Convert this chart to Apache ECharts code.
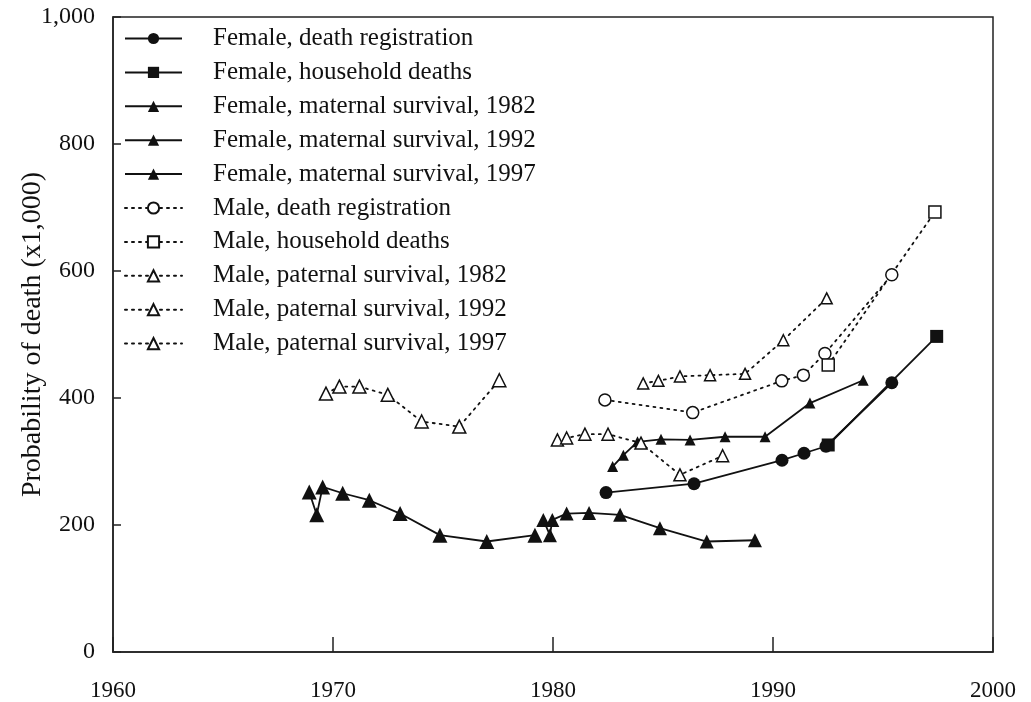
<!DOCTYPE html>
<html>
<head>
<meta charset="utf-8">
<script src="https://cdn.jsdelivr.net/npm/echarts@6/dist/echarts.min.js"></script>
<style>
html,body{margin:0;padding:0;background:#fff;}
#c{width:1031px;height:702px;}
</style>
</head>
<body>
<div id="c"></div>
<script>
// ---- Data (year, probability of death x1,000) ----
const femaleDeathReg = [[1982.41,251],[1986.41,265],[1990.41,302],[1991.41,313],[1992.41,324],[1995.4,424]];
const femaleHousehold = [[1992.51,326],[1997.44,497]];
const femaleMaternal1982 = [[1968.92,252],[1969.26,216],[1969.53,260],[1970.44,250],[1971.65,239],[1973.05,218],[1974.86,184],[1976.99,174],[1979.18,184]];
const femaleMaternal1992 = [[1979.56,208],[1979.86,184],[1979.97,208],[1980.62,218],[1981.64,219],[1983.05,216],[1984.86,195],[1986.99,174],[1989.18,176]];
const femaleMaternal1997 = [[1982.71,292],[1983.2,310],[1983.84,331],[1984.91,335],[1986.23,334],[1987.82,339],[1989.64,339],[1991.68,392],[1994.1,428]];
const maleDeathReg = [[1982.36,397],[1986.35,377],[1990.4,427],[1991.38,436],[1992.36,470],[1995.4,594]];
const maleHousehold = [[1992.51,452],[1997.36,693]];
const malePaternal1982 = [[1969.68,407],[1970.29,418],[1971.2,418],[1972.49,405],[1974.03,363],[1975.74,355],[1977.56,428]];
const malePaternal1992 = [[1980.2,334],[1980.62,337],[1981.45,343],[1982.5,343],[1984.0,329],[1985.77,279],[1987.71,309]];
const malePaternal1997 = [[1984.1,423],[1984.79,427],[1985.77,434],[1987.14,436],[1988.73,438],[1990.47,491],[1992.44,557]];

const seriesNames = [
  'Female, death registration',
  'Female, household deaths',
  'Female, maternal survival, 1982',
  'Female, maternal survival, 1992',
  'Female, maternal survival, 1997',
  'Male, death registration',
  'Male, household deaths',
  'Male, paternal survival, 1982',
  'Male, paternal survival, 1992',
  'Male, paternal survival, 1997'
];
const xTicks = [1960, 1970, 1980, 1990, 2000];
const yTicks = [0, 200, 400, 600, 800, 1000];

const FONT = '"Liberation Serif", "DejaVu Serif", serif';
const INK = '#111';

function female(name, data, symbol, size, z) {
  return {
    name, type: 'line', data, symbol, symbolSize: size, z: z || 2,
    lineStyle: { color: INK, width: 1.8, type: 'solid' },
    itemStyle: { color: INK, borderColor: INK, borderWidth: 0 },
    emphasis: { disabled: true }, animation: false
  };
}
function male(name, data, symbol, size) {
  return {
    name, type: 'line', data, symbol, symbolSize: size, z: 3,
    lineStyle: { color: INK, width: 1.8, type: [2, 5], cap: 'round' },
    itemStyle: { color: '#fff', borderColor: INK, borderWidth: 1.5 },
    emphasis: { disabled: true }, animation: false
  };
}

const chart = echarts.init(document.getElementById('c'), null, { renderer: 'canvas' });
chart.setOption({
  backgroundColor: '#fff',
  animation: false,
  grid: { left: 113, right: 38, top: 17, bottom: 50, outerBoundsMode: 'none', containLabel: false,
    show: true, borderColor: '#222', borderWidth: 1.5, backgroundColor: 'transparent' },
  legend: {
    orient: 'vertical', left: 119, top: 21,
    itemWidth: 57, itemHeight: 14, itemGap: 8.9,
    textStyle: { fontFamily: FONT, fontSize: 25, color: '#111', lineHeight: 25, padding: [0, 0, 0, 26] },
    data: seriesNames, selectedMode: false
  },
  xAxis: {
    type: 'value', min: 1960, max: 2000, interval: 10,
    axisLine: { show: true, onZero: false, lineStyle: { color: '#222', width: 1.5 } },
    axisTick: { show: true, inside: true, length: 15, lineStyle: { color: '#222', width: 1.5 }, customValues: xTicks },
    axisLabel: { fontFamily: FONT, fontSize: 23, color: '#111', margin: 27, customValues: xTicks,
      formatter: v => String(v) },
    splitLine: { show: false }
  },
  yAxis: {
    type: 'value', min: 0, max: 1000, interval: 200,
    name: 'Probability of death (x1,000)', nameLocation: 'middle', nameGap: 66, nameRotate: 90,
    nameMoveOverlap: false,
    nameTextStyle: { fontFamily: FONT, fontSize: 28, color: '#111' },
    axisLine: { show: true, lineStyle: { color: '#222', width: 1.5 } },
    axisTick: { show: true, inside: true, length: 8, lineStyle: { color: '#222', width: 1.5 }, customValues: yTicks },
    axisLabel: { fontFamily: FONT, fontSize: 24, color: '#111', margin: 18, customValues: yTicks,
      formatter: v => v.toLocaleString('en-US') },
    splitLine: { show: false }
  },
  series: [
    female(seriesNames[0], femaleDeathReg, 'circle', 13, 2),
    female(seriesNames[1], femaleHousehold, 'rect', 13, 4),
    female(seriesNames[2], femaleMaternal1982, 'triangle', 15),
    female(seriesNames[3], femaleMaternal1992, 'triangle', 14),
    female(seriesNames[4], femaleMaternal1997, 'triangle', 11),
    male(seriesNames[5], maleDeathReg, 'circle', 12),
    male(seriesNames[6], maleHousehold, 'rect', 12),
    male(seriesNames[7], malePaternal1982, 'triangle', 13),
    male(seriesNames[8], malePaternal1992, 'triangle', 12),
    male(seriesNames[9], malePaternal1997, 'triangle', 11)
  ]
});
</script>
</body>
</html>
